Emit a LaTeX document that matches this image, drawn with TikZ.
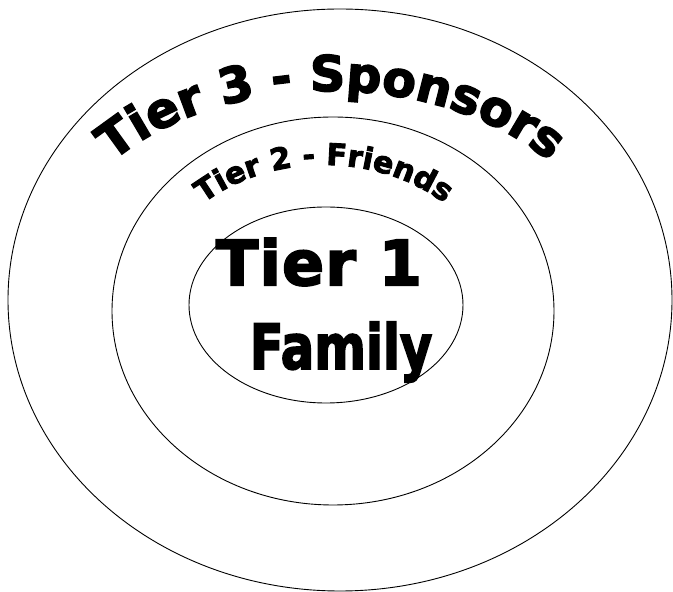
\documentclass[tikz,border=0pt]{standalone}
\usepackage{fontspec}
\usetikzlibrary{shapes.geometric,decorations.text}
\newfontfamily\tierfont{DejaVu Sans Bold}[FakeBold=3]

\begin{document}
\begin{tikzpicture}[x=1pt, y=1pt,
  ring/.style={draw, ellipse, line width=0.9pt, inner sep=0pt},
  bigword/.style={inner sep=0pt, font=\tierfont\fontsize{62}{62}\selectfont}
]
\useasboundingbox (0,0) rectangle (673,592);
% the three tiers
\node[ring, minimum width=664pt, minimum height=582pt] (tier3) at (340,292) {};
\node[ring, minimum width=442pt, minimum height=388pt] (tier2) at (333,281) {};
\node[ring, minimum width=274pt, minimum height=196pt] (tier1) at (326,287) {};
% curved labels
\path[decorate, decoration={text along path, text align=center,
  text={|\tierfont\fontsize{49}{49}\selectfont|Tier 3 - Sponsors}}]
  (331,309) ++(145:282 and 192) arc[start angle=145, end angle=35, x radius=282, y radius=192];
\path[decorate, decoration={text along path, text align=center,
  text={|\tierfont\fontsize{30}{30}\selectfont|Tier 2 - Friends}}]
  (324,286) ++(145:176 and 141) arc[start angle=145, end angle=35, x radius=176, y radius=141];
% centre
\node[bigword] (tieronelabel) at (319,330) {\addfontfeature{LetterSpace=2}Tier 1};
\node[bigword, xscale=0.8, transform shape] (familylabel) at (341,240) {Family};
\end{tikzpicture}
\end{document}
